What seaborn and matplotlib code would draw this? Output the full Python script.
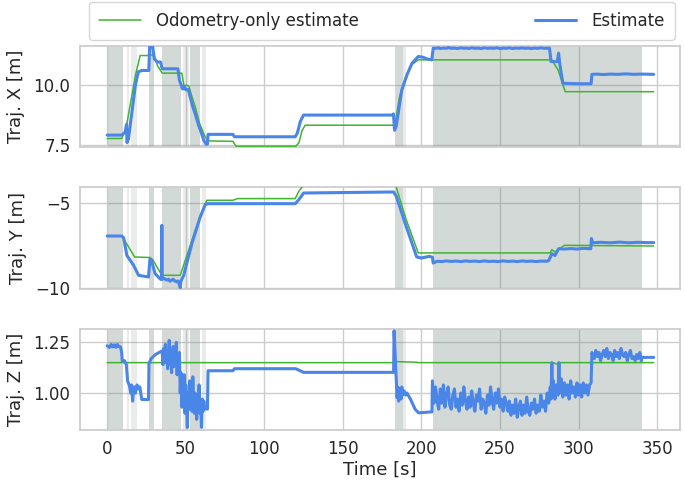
import numpy as np
import pandas as pd
import matplotlib
matplotlib.use("Agg")
import matplotlib.pyplot as plt
from matplotlib.ticker import MultipleLocator, FuncFormatter
import seaborn as sns

# ---- data: (time [s], value [m]) ----
est_x = [(0, 7.92), (9.3, 7.92), (11.5, 8.05), (12.3, 8.37), (12.6, 7.61), (13.5, 7.75),
         (16, 9.0), (18, 10.0), (19.8, 10.54), (22, 10.6), (26.5, 10.6), (27, 11.57),
         (29, 11.57), (30, 11.08), (32, 10.95), (34, 10.95), (35, 10.67), (45, 10.67),
         (46, 10.2), (48, 9.83), (49, 9.95), (50, 9.8), (51.6, 9.82), (54, 9.2), (56, 8.8),
         (58, 8.37), (60, 8.0), (61.5, 7.7), (63, 7.54), (63.8, 7.54), (64.2, 7.95), (80, 7.95),
         (81, 7.85), (119.7, 7.85), (121, 8.0), (123, 8.5), (125, 8.75), (181.8, 8.75),
         (182.2, 8.8), (182.9, 8.12), (184, 8.3), (187.5, 9.79), (191, 10.45), (194, 10.9),
         (198, 11.18), (201, 11.15), (203.5, 11.08), (206.6, 11.04), (207.5, 11.53),
         (209, 11.52), (211, 11.54), (212, 11.51), (214, 11.53), (216, 11.52), (217, 11.55),
         (219, 11.52), (221, 11.53), (223, 11.51), (225, 11.54), (227, 11.52), (229, 11.53),
         (230, 11.51), (232, 11.54), (234, 11.52), (236, 11.53), (238, 11.51), (240, 11.54),
         (242, 11.52), (244, 11.53), (246, 11.52), (248, 11.54), (250, 11.51), (252, 11.53),
         (254, 11.52), (256, 11.54), (258, 11.51), (260, 11.53), (262, 11.52), (264, 11.54),
         (266, 11.52), (268, 11.53), (270, 11.51), (272, 11.53), (274, 11.52), (276, 11.54),
         (278, 11.52), (281.5, 11.53), (282.5, 10.97), (285, 10.97), (286.5, 10.97),
         (287.3, 11.32), (288, 10.9), (290, 10.07), (300, 10.05), (308, 10.05), (308.5, 10.44),
         (312, 10.45), (316, 10.43), (320, 10.45), (325, 10.44), (330, 10.46), (335, 10.44),
         (340, 10.45), (347.8, 10.44)]
odo_x = [(0, 7.78), (9.3, 7.78), (12, 8.2), (15, 9.3), (18, 10.4), (21, 11.22), (25.6, 11.22),
         (28, 11.25), (30, 11.2), (32, 10.8), (35, 10.49), (47.5, 10.49), (49, 9.92),
         (50.5, 10.0), (52, 9.95), (54, 9.5), (56, 9.1), (59, 8.37), (62, 7.9), (64, 7.68),
         (80, 7.66), (82, 7.46), (120, 7.46), (122, 7.6), (124, 8.1), (126, 8.33), (182, 8.33),
         (183, 8.25), (186, 9.5), (190, 10.3), (194, 10.85), (198, 11.04), (283, 11.04),
         (287, 10.62), (291.5, 9.72), (347.8, 9.72)]

est_y = [(0, -6.95), (9.3, -6.95), (10.5, -7.05), (12.5, -8.09), (16.8, -8.68), (20, -9.27),
         (26.3, -9.37), (27.2, -8.33), (28, -8.35), (30.5, -9.17), (34, -9.51), (34.6, -9.5),
         (34.8, -6.32), (35.0, -9.5), (36, -9.45), (38, -9.55), (39, -9.5), (40, -9.62),
         (42, -9.5), (43, -9.6), (44, -9.65), (45, -9.6), (46.2, -9.86), (46.5, -10.0),
         (47, -9.6), (48.6, -9.3), (53.9, -7.4), (59.2, -5.83), (62.4, -5.1), (64, -5.04),
         (119.7, -5.04), (122, -4.8), (125, -4.41), (182.3, -4.35), (184, -4.6), (190, -6.3),
         (197, -8.19), (200, -8.25), (205, -8.15), (207, -8.2), (207.5, -8.55), (210, -8.44),
         (213, -8.46), (216, -8.42), (219, -8.45), (222, -8.43), (225, -8.46), (228, -8.42),
         (231, -8.45), (234, -8.43), (237, -8.46), (240, -8.42), (243, -8.45), (246, -8.44),
         (249, -8.46), (252, -8.42), (255, -8.45), (258, -8.43), (261, -8.46), (264, -8.42),
         (267, -8.45), (270, -8.43), (273, -8.46), (276, -8.43), (280, -8.44), (281, -8.40),
         (283, -8.0), (285, -8.1), (287.3, -7.7), (291, -7.72), (295, -7.69), (299, -7.72),
         (303, -7.68), (307.8, -7.7), (308.2, -7.1), (309, -7.35), (314, -7.32), (320, -7.35),
         (326, -7.31), (332, -7.35), (338, -7.32), (343, -7.34), (347.8, -7.34)]
odo_y = [(0, -6.95), (9.3, -6.95), (13, -7.5), (17.5, -8.19), (27.4, -8.22), (29, -8.35),
         (34.8, -9.27), (46.5, -9.27), (48.6, -8.7), (55, -6.9), (60, -5.6), (63.4, -4.84),
         (80, -4.84), (83, -4.74), (119.7, -4.74), (122, -4.3), (125, -3.95), (183.6, -3.95),
         (190, -5.9), (198, -7.95), (282, -7.95), (283, -7.75), (285, -7.9), (291, -7.5),
         (347.8, -7.54)]

est_z = [(0, 1.233), (1.5, 1.225), (2.5, 1.24), (3.5, 1.228), (4.5, 1.238), (5.5, 1.225),
         (6.5, 1.24), (7.2, 1.23), (8.5, 1.228), (9.2, 1.2), (9.6, 1.158), (11, 1.16),
         (12.2, 1.14), (13, 1.06), (14.2, 1.035), (15, 1.0), (15.5, 1.04), (16.2, 0.96),
         (17, 1.03), (18, 1.0), (19, 1.04), (19.8, 1.02), (20.8, 1.03), (22, 0.968),
         (26.3, 0.968), (26.6, 1.145), (28, 1.17), (30.7, 1.19), (33, 1.2), (35, 1.208),
         (35.5, 1.14), (36, 1.22), (36.5, 1.17), (37, 1.24), (37.5, 1.15), (38, 1.21),
         (38.5, 1.12), (39, 1.2), (39.5, 1.26), (40, 1.14), (40.5, 1.2), (41, 1.1), (41.5, 1.19),
         (42, 1.23), (42.5, 1.13), (43, 1.2), (43.5, 1.16), (44, 1.25), (44.5, 1.09),
         (45, 1.18), (45.5, 1.12), (46, 1.2), (46.5, 1.0), (47, 1.1), (47.5, 0.93), (48, 1.07),
         (48.5, 0.97), (49, 1.09), (49.5, 0.9), (50, 1.04), (50.5, 0.95), (51, 0.83),
         (51.5, 1.0), (52, 0.92), (52.5, 1.06), (53, 0.94), (53.5, 1.02), (54, 0.91),
         (54.5, 1.08), (55, 0.96), (55.5, 0.9), (56, 1.0), (56.5, 0.94), (57, 0.87),
         (57.5, 0.99), (58, 0.93), (58.5, 1.04), (59, 0.9), (59.5, 0.96), (60, 0.83),
         (60.5, 0.97), (61, 0.91), (61.5, 0.96), (62, 0.92), (63, 0.93), (63.8, 0.92),
         (64.2, 1.11), (80, 1.11), (81, 1.12), (120, 1.12), (125, 1.102), (182.3, 1.102),
         (182.6, 1.307), (184.5, 0.977), (185, 1.03), (185.5, 0.96), (186, 1.02), (187, 0.97),
         (187.5, 1.03), (188, 0.99), (189, 1.01), (190, 0.99), (190.8, 1.0), (193, 0.97),
         (196, 0.92), (198.2, 0.902), (206.7, 0.907), (207, 1.06), (208, 0.95), (209, 1.03),
         (210, 0.96), (211, 0.92), (212, 1.02), (213, 0.95), (214, 1.04), (215, 0.93),
         (216, 0.99), (217, 1.03), (218, 0.94), (219, 0.92), (220, 0.99), (221, 1.02),
         (222, 0.93), (223, 0.97), (224, 0.91), (225, 1.0), (226, 0.94), (227, 1.03),
         (228, 0.96), (229, 0.92), (230, 0.98), (231, 0.93), (232, 1.01), (233, 0.95),
         (234, 0.91), (235, 0.99), (236, 0.96), (237, 1.02), (238, 0.92), (239, 0.97),
         (240, 0.95), (241, 0.9), (242, 0.99), (243, 0.94), (244, 1.03), (245, 0.96),
         (246, 0.92), (247, 1.0), (248, 0.95), (249, 1.02), (250, 0.93), (251, 0.97),
         (252, 0.91), (253, 0.98), (254, 0.95), (255, 0.91), (256, 0.96), (257, 0.89),
         (258, 0.94), (259, 0.9), (260, 0.97), (261, 0.88), (262, 0.93), (263, 0.96),
         (264, 0.89), (265, 0.94), (266, 0.9), (267, 0.98), (268, 0.91), (269, 0.89),
         (270, 0.95), (271, 0.92), (272, 0.97), (273, 0.9), (274, 0.94), (275, 0.91),
         (276, 0.99), (277, 0.93), (278, 0.96), (279, 0.91), (280, 1.0), (281, 0.95),
         (282, 1.03), (282.5, 0.97), (283, 1.15), (283.5, 0.99), (284, 1.06), (285, 0.97),
         (286, 1.04), (287, 0.99), (287.5, 1.15), (288, 1.0), (289, 1.07), (290, 0.98),
         (291, 1.05), (292, 0.99), (293, 1.04), (294, 0.97), (295, 1.06), (296, 1.0),
         (297, 1.03), (298, 0.98), (299, 1.05), (300, 0.99), (301, 1.04), (302, 0.98),
         (303, 1.05), (304, 1.0), (305, 1.04), (306, 0.99), (307, 1.04), (308, 1.05),
         (308.5, 1.2), (309, 1.19), (310, 1.17), (311, 1.21), (312, 1.18), (313, 1.2),
         (314, 1.16), (315, 1.19), (316, 1.21), (317, 1.18), (318, 1.22), (319, 1.17),
         (320, 1.2), (321, 1.19), (322, 1.16), (323, 1.21), (324, 1.18), (325, 1.2),
         (326, 1.17), (327, 1.22), (328, 1.19), (329, 1.18), (330, 1.2), (331, 1.16),
         (332, 1.19), (333, 1.21), (334, 1.17), (335, 1.18), (336, 1.16), (337, 1.19),
         (338, 1.17), (339, 1.2), (340, 1.16), (340.5, 1.176), (347.8, 1.176)]
odo_z = [(0, 1.15), (182, 1.15), (184, 1.155), (197, 1.152), (198, 1.15), (282, 1.15),
         (283, 1.14), (284, 1.15), (287, 1.14), (288, 1.15), (347.8, 1.15)]

# shaded time intervals
shade_dark = [(0.8, 10.0), (26.9, 29.5), (34.8, 47.1), (52.8, 59.2), (183.3, 188.4), (207.3, 340.3)]
shade_light = [(12.5, 14.2), (15.3, 18.9), (48.4, 52.2), (60.3, 63.0), (188.4, 190.0)]

est_color = "#4a85e8"
odo_color = "#3db52d"

sns.set_theme(style="whitegrid")
plt.rcParams["font.family"] = ["DejaVu Sans"]

fig, axes = plt.subplots(3, 1, figsize=(6.85, 4.83), dpi=100, sharex=True)
fig.subplots_adjust(left=0.117, right=0.993, top=0.905, bottom=0.110, hspace=0.396)

minus_int = FuncFormatter(lambda v, p: f"{v:.0f}".replace("-", "\u2212"))
panels = [
    (est_x, odo_x, "Traj. X [m]", (7.42, 11.62), 2.5, plt.FormatStrFormatter("%.1f")),
    (est_y, odo_y, "Traj. Y [m]", (-10.05, -4.07), 5, minus_int),
    (est_z, odo_z, "Traj. Z [m]", (0.818, 1.318), 0.25, plt.FormatStrFormatter("%.2f")),
]

for ax, (est, odo, lab, ylim, step, fmt) in zip(axes, panels):
    for s, e in shade_dark:
        ax.axvspan(s, e, color="#6e827d", alpha=0.3, lw=0, zorder=2)
    for s, e in shade_light:
        ax.axvspan(s, e, color="#6e827d", alpha=0.15, lw=0, zorder=2)
    df_o = pd.DataFrame(odo, columns=["t", "v"])
    df_e = pd.DataFrame(est, columns=["t", "v"])
    sns.lineplot(data=df_o, x="t", y="v", ax=ax, color=odo_color, lw=1.1, sort=False,
                 estimator=None, label="Odometry-only estimate", legend=False, zorder=3)
    sns.lineplot(data=df_e, x="t", y="v", ax=ax, color=est_color, lw=2.2, sort=False,
                 estimator=None, label="Estimate", legend=False, zorder=4)
    ax.set_ylim(*ylim)
    ax.set_xlim(-17.2, 364.7)
    ax.yaxis.set_major_locator(MultipleLocator(step))
    ax.yaxis.set_major_formatter(fmt)
    ax.xaxis.set_major_locator(MultipleLocator(50))
    ax.set_ylabel(lab, fontsize=13, labelpad=6)
    ax.set_xlabel("")
    ax.tick_params(labelsize=12, pad=1)

axes[2].set_xlabel("Time [s]", fontsize=13, labelpad=2)

handles, labels = axes[0].get_legend_handles_labels()
fig.legend(handles, labels, loc="lower left", bbox_to_anchor=(0.13, 0.918, 0.855, 0.073),
           mode="expand", ncol=2, fontsize=12, frameon=True, borderaxespad=0,
           handlelength=2.5, handletextpad=0.9, borderpad=0.6)

fig.savefig("out.png", dpi=100)
